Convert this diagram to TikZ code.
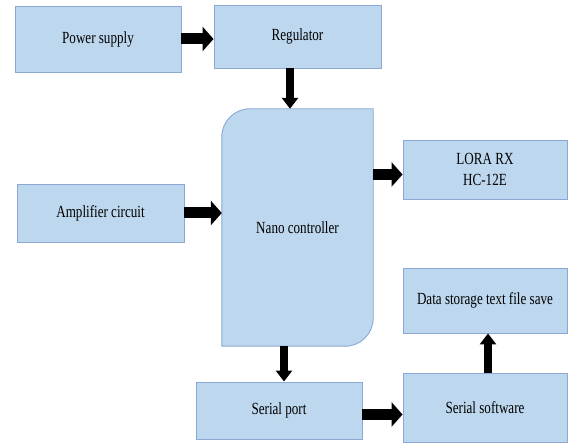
\documentclass[tikz,border=0pt]{standalone}
\usepackage{fontspec}
\setmainfont[FakeStretch=0.77]{Liberation Serif}
\usetikzlibrary{arrows.meta,backgrounds}
\definecolor{boxfill}{RGB}{189,215,238}
\definecolor{boxline}{RGB}{140,168,212}
\begin{document}
\begin{tikzpicture}[x=1pt, y=-1pt, font=\fontsize{17}{21}\selectfont,
  block/.style={draw=boxline, fill=boxfill, line width=0.9pt, inner sep=0pt, align=center},
  harrow/.style={line width=11pt, -{Triangle[length=11pt,width=24pt]}},
  varrow/.style={line width=7.5pt, -{Triangle[length=11pt,width=16pt]}}]
  \useasboundingbox (0,0) rectangle (568,443);
  \node[block, minimum width=166pt, minimum height=66pt] (power) at (98,39) {Power supply};
  \node[block, minimum width=167pt, minimum height=63pt] (reg) at (297.5,36.5) {Regulator};
  \node[inner sep=0pt, minimum width=151pt, minimum height=237pt] (nano) at (297.5,227.5) {Nano controller};
  \node[block, minimum width=167pt, minimum height=58pt] (amp) at (100.5,213) {Amplifier circuit};
  \node[block, minimum width=164pt, minimum height=59pt] (lora) at (485,169.5) {LORA RX\\HC-12E};
  \node[block, minimum width=164pt, minimum height=65pt] (store) at (485,300.5) {Data storage text file save};
  \node[block, minimum width=164pt, minimum height=69pt] (ssoft) at (485,407.5) {Serial software};
  \node[block, minimum width=166pt, minimum height=57pt] (sport) at (279,410.5) {Serial port};
  % controller body, two rounded corners
  \begin{scope}[on background layer]
    \draw[draw=boxline, fill=boxfill, line width=0.9pt]
      ([xshift=28pt]nano.north west) -- (nano.north east) -- ([yshift=28pt]nano.south east)
      arc[start angle=0, end angle=-90, radius=28pt] -- (nano.south west)
      -- ([yshift=-28pt]nano.north west) arc[start angle=180, end angle=90, radius=28pt] -- cycle;
  \end{scope}
  \draw[harrow] (power.east) -- (power.east -| reg.west);
  \draw[varrow] ([xshift=-7.5pt]reg.south) -- ([xshift=-7.5pt]reg.south |- nano.north);
  \draw[harrow] ([yshift=-5pt]lora.west -| nano.east) -- ([yshift=-5pt]lora.west);
  \draw[harrow] (amp.east) -- (amp.east -| nano.west);
  \draw[varrow] ([xshift=5pt]sport.north |- nano.south) -- ([xshift=5pt]sport.north);
  \draw[harrow] ([yshift=-4pt]sport.east) -- ([yshift=-4pt]sport.east -| ssoft.west);
  \draw[varrow] ([xshift=3pt]ssoft.north) -- ([xshift=3pt]ssoft.north |- store.south);
\end{tikzpicture}
\end{document}
